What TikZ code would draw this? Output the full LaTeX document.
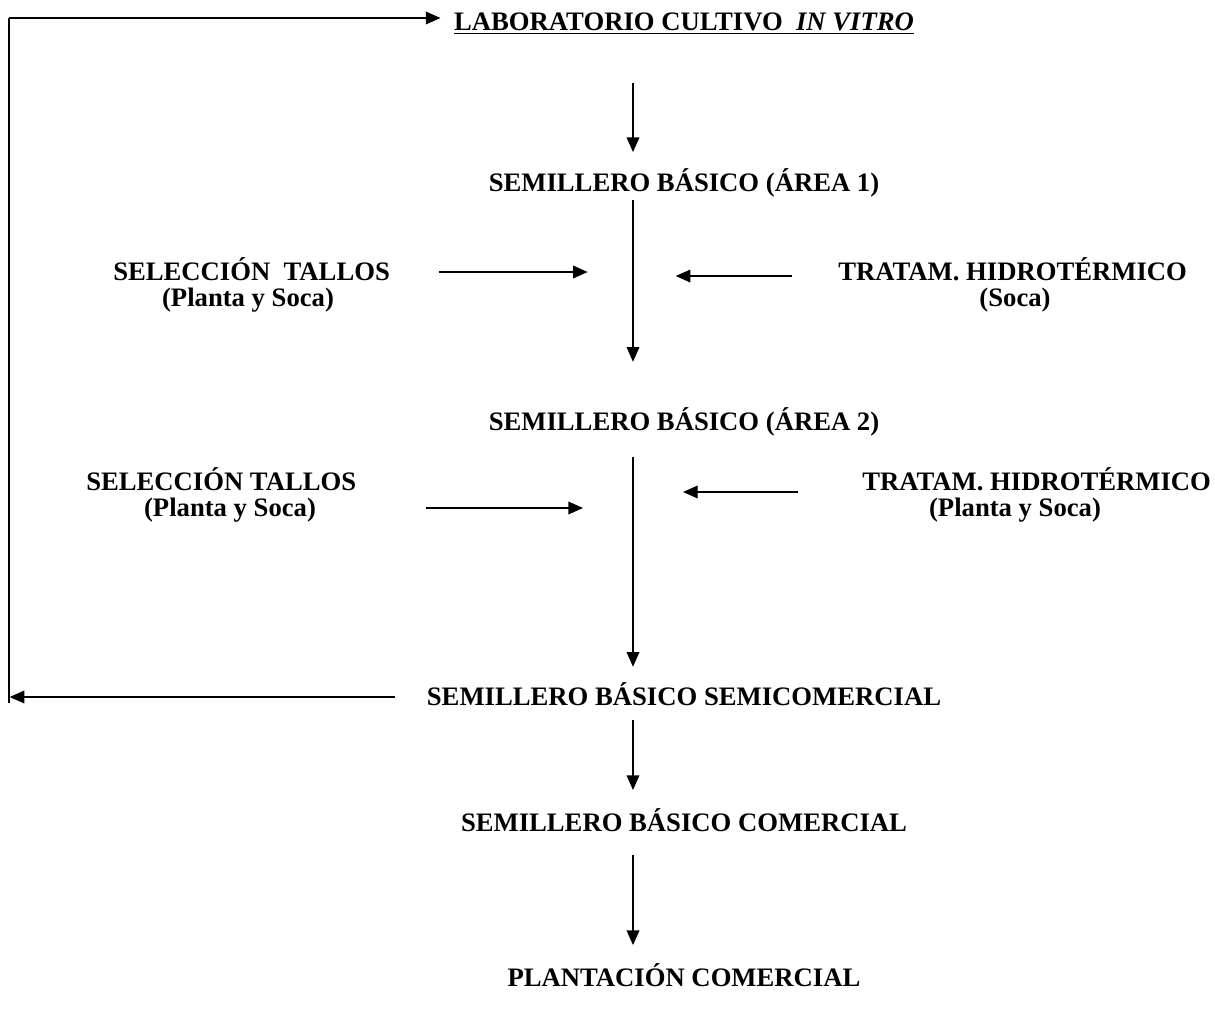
\documentclass[tikz,border=0pt]{standalone}
\usepackage{fontspec}
\setmainfont{Liberation Serif}
\usepackage{tikz}
\usetikzlibrary{arrows.meta}

\tikzset{
        etapa/.style={font=\bfseries\fontsize{20}{24}\selectfont, inner sep=0pt, text height=13pt, text depth=0pt},
        flecha/.style={-{Triangle[length=11pt,width=9.5pt]}, line width=1pt},
        linea/.style={line width=1pt}
}

\begin{document}
\begin{tikzpicture}[x=0.75pt, y=-0.75pt]
        \useasboundingbox (0,0) rectangle (1215,1015);

        \coordinate (eje) at (633,0);
        \coordinate (esqsup) at (9,18);
        \coordinate (esqinf) at (9,703);

        \node [etapa] (lab) at (684,22) {\underline{LABORATORIO CULTIVO~ \textit{IN VITRO}}};
        \node [etapa] (area1) at (684,183) {SEMILLERO BÁSICO (ÁREA 1)};
        \node [etapa, anchor=west] (sel1) at (113,272) {SELECCIÓN~ TALLOS};
        \node [etapa] (sel1b) at (248,298) {(Planta y Soca)};
        \node [etapa, anchor=west] (trat1) at (838,272) {TRATAM. HIDROTÉRMICO};
        \node [etapa] (trat1b) at (1015,298) {(Soca)};
        \node [etapa] (area2) at (684,422) {SEMILLERO BÁSICO (ÁREA 2)};
        \node [etapa, anchor=west] (sel2) at (86,482) {SELECCIÓN TALLOS};
        \node [etapa] (sel2b) at (230,508) {(Planta y Soca)};
        \node [etapa, anchor=west] (trat2) at (862,482) {TRATAM. HIDROTÉRMICO};
        \node [etapa] (trat2b) at (1015,508) {(Planta y Soca)};
        \node [etapa] (semi) at (684,697) {SEMILLERO BÁSICO SEMICOMERCIAL};
        \node [etapa] (com) at (684,823) {SEMILLERO BÁSICO COMERCIAL};
        \node [etapa] (plant) at (684,978) {PLANTACIÓN COMERCIAL};

        \draw [flecha, shorten <=39pt, shorten >=16.5pt] (lab.south -| eje) -- (area1.north -| eje);
        \draw [flecha, shorten <=6pt, shorten >=38.5pt] (area1.south -| eje) -- (area2.north -| eje);
        \draw [flecha, shorten <=19.5pt, shorten >=16pt] (area2.south -| eje) -- (semi.north -| eje);
        \draw [flecha, shorten <=10.5pt, shorten >=18pt] (semi.south -| eje) -- (com.north -| eje);
        \draw [flecha, shorten <=17.5pt, shorten >=18pt] (com.south -| eje) -- (plant.north -| eje);

        \draw [flecha, shorten <=36.5pt, shorten >=34pt] (sel1.east) -- (sel1.east -| eje);
        \draw [flecha, shorten <=34.5pt, shorten >=32pt] ([yshift=-3pt]trat1.west) -- ([yshift=-3pt]trat1.west -| eje);
        \draw [flecha, shorten <=82pt, shorten >=37.5pt] (sel2b.east) -- (sel2b.east -| eje);
        \draw [flecha, shorten <=48pt, shorten >=37.5pt] ([yshift=-7.5pt]trat2.west) -- ([yshift=-7.5pt]trat2.west -| eje);

        \draw [flecha, shorten <=24pt, shorten >=0.5pt] (semi.west) -- (semi.west -| esqinf);
        \draw [linea] (esqinf) -- (esqsup);
        \draw [flecha, shorten >=10pt] (esqsup) -- (lab.west |- esqsup);
\end{tikzpicture}
\end{document}
